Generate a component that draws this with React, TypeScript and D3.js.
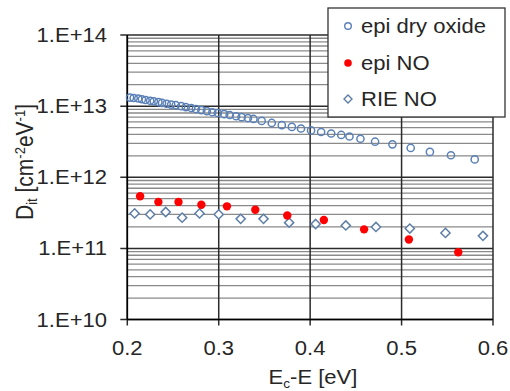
import * as d3 from 'd3';

// E_c - E [eV] and D_it [cm^-2 eV^-1]
const dryOxideE = [
  0.203, 0.207, 0.212, 0.216, 0.220, 0.225, 0.229, 0.234, 0.238, 0.243,
  0.248, 0.253, 0.259, 0.264, 0.270, 0.275, 0.281, 0.287, 0.293, 0.299,
  0.306, 0.312, 0.319, 0.325, 0.332, 0.338, 0.347, 0.358, 0.369, 0.380,
  0.390, 0.401, 0.412, 0.423, 0.434, 0.443, 0.455, 0.471, 0.490, 0.510,
  0.531, 0.554, 0.580,
];
const dryOxideDit = [
  1.32e13, 1.30e13, 1.28e13, 1.25e13, 1.22e13, 1.19e13, 1.17e13, 1.14e13, 1.11e13, 1.08e13,
  1.05e13, 1.03e13, 1.0e13, 9.7e12, 9.4e12, 9.1e12, 8.8e12, 8.5e12, 8.2e12, 8.0e12,
  7.7e12, 7.5e12, 7.2e12, 7.0e12, 6.8e12, 6.6e12, 6.2e12, 5.8e12, 5.4e12, 5.1e12,
  4.85e12, 4.56e12, 4.33e12, 4.12e12, 3.93e12, 3.74e12, 3.48e12, 3.16e12, 2.9e12, 2.58e12,
  2.27e12, 2.04e12, 1.78e12,
];

const epiNoE = [0.214, 0.234, 0.256, 0.281, 0.309, 0.340, 0.375, 0.415, 0.459, 0.508, 0.562];
const epiNoDit = [5.4e11, 4.5e11, 4.5e11, 4.1e11, 3.9e11, 3.5e11, 2.9e11, 2.5e11, 1.85e11, 1.33e11, 8.8e10];

const rieNoE = [
  0.208, 0.225, 0.242, 0.260, 0.279, 0.300, 0.324, 0.349, 0.377, 0.406,
  0.439, 0.472, 0.509, 0.548, 0.589,
];
const rieNoDit = [
  3.1e11, 3.0e11, 3.25e11, 2.7e11, 3.1e11, 3.0e11, 2.6e11, 2.6e11, 2.3e11, 2.2e11,
  2.1e11, 2.0e11, 1.9e11, 1.65e11, 1.5e11,
];

const xTicks = [0.2, 0.3, 0.4, 0.5, 0.6];
const yTicks = [1e10, 1e11, 1e12, 1e13, 1e14];
const yTickLabels = ['1.E+10', '1.E+11', '1.E+12', '1.E+13', '1.E+14'];
const legendLabels = ['epi dry oxide', 'epi NO', 'RIE NO'];

const W = 510;
const H = 391;
const FONT = 'Liberation Sans, Arial, sans-serif';
const FS = 19.5;
const SX = 1.13; // the reference text is a bit wider than plain Arial
const INK = '#262626';
const BLUE = '#5a80b8';
const DIAMOND = '#5f7ea6';
const RED = '#ff0000';

function T({ x, y, anchor = 'start', children }: { x: number; y: number; anchor?: string; children: any }) {
  return (
    <text transform={`translate(${x},${y}) scale(${SX},1)`} textAnchor={anchor} fontSize={FS} fill={INK}>
      {children}
    </text>
  );
}

export default function App() {
  const x = d3.scaleLinear().domain([0.2, 0.6]).range([127.3, 493]);
  const y = d3.scaleLog().domain([1e10, 1e14]).range([319.5, 35]);
  const [x0, x1] = x.range();
  const [yb, yt] = y.range();

  const minorY = y.ticks().filter((t) => !yTicks.some((m) => Math.abs(m - t) / m < 1e-6));
  const diamond = (cx: number, cy: number, r: number) =>
    `M${cx},${cy - r}L${cx + r},${cy}L${cx},${cy + r}L${cx - r},${cy}Z`;

  return (
    <svg width={W} height={H} style={{ position: 'absolute', left: 0, top: 0, background: '#fff' }}
      fontFamily={FONT}>
      {/* minor grid */}
      {minorY.map((t, i) => (
        <line key={'m' + i} x1={x0} x2={x1} y1={y(t)} y2={y(t)} stroke="#8a8a8a" strokeWidth={1.3} />
      ))}
      {/* major grid */}
      {yTicks.map((t, i) => (
        <line key={'gy' + i} x1={x0 - 7} x2={x1} y1={y(t)} y2={y(t)} stroke="#2b2b2b" strokeWidth={1.5} />
      ))}
      {xTicks.map((t, i) => (
        <line key={'gx' + i} x1={x(t)} x2={x(t)} y1={yt} y2={yb + 6} stroke="#2b2b2b" strokeWidth={1.5} />
      ))}
      <line x1={x0} x2={x0} y1={yt} y2={yb} stroke="#000" strokeWidth={1.6} />
      <line x1={x0} x2={x1} y1={yb} y2={yb} stroke="#000" strokeWidth={1.6} />

      {/* tick labels */}
      {yTicks.map((t, i) => (
        <T key={'ly' + i} x={107} y={y(t) + 7} anchor="end">{yTickLabels[i]}</T>
      ))}
      {xTicks.map((t, i) => (
        <T key={'lx' + i} x={x(t)} y={355} anchor="middle">{t.toFixed(1)}</T>
      ))}

      {/* axis titles */}
      <T x={313} y={384} anchor="middle">
        E<tspan fontSize={12} dy={4}>c</tspan><tspan dy={-4}>-E [eV]</tspan>
      </T>
      <text transform="translate(33,162) rotate(-90) scale(1,1.1)" textAnchor="middle" fontSize={21} fill={INK}>
        D<tspan fontSize={13} dy={4}>it</tspan>
        <tspan dy={-4}> [cm</tspan>
        <tspan fontSize={13} dy={-7}>-2</tspan>
        <tspan dy={7}>eV</tspan>
        <tspan fontSize={13} dy={-7}>-1</tspan>
        <tspan dy={7}>]</tspan>
      </text>

      {/* series */}
      {dryOxideE.map((e, i) => (
        <circle key={'d' + i} cx={x(e)} cy={y(dryOxideDit[i])} r={3.6} fill="none" stroke={BLUE} strokeWidth={1.5} />
      ))}
      {rieNoE.map((e, i) => (
        <path key={'r' + i} d={diamond(x(e), y(rieNoDit[i]), 4.6)} fill="#fff" stroke={DIAMOND} strokeWidth={1.5} />
      ))}
      {epiNoE.map((e, i) => (
        <circle key={'e' + i} cx={x(e)} cy={y(epiNoDit[i])} r={4.2} fill={RED} />
      ))}

      {/* legend */}
      <rect x={328} y={8} width={177} height={109} fill="#fff" stroke="#333" strokeWidth={1.3} />
      <circle cx={348} cy={26} r={3.3} fill="none" stroke={BLUE} strokeWidth={1.4} />
      <circle cx={348} cy={63} r={3.8} fill={RED} />
      <path d={diamond(348, 99, 4)} fill="#fff" stroke={DIAMOND} strokeWidth={1.4} />
      {legendLabels.map((l, i) => (
        <T key={'lg' + i} x={361} y={[26, 63, 99][i] + 7}>{l}</T>
      ))}
    </svg>
  );
}
